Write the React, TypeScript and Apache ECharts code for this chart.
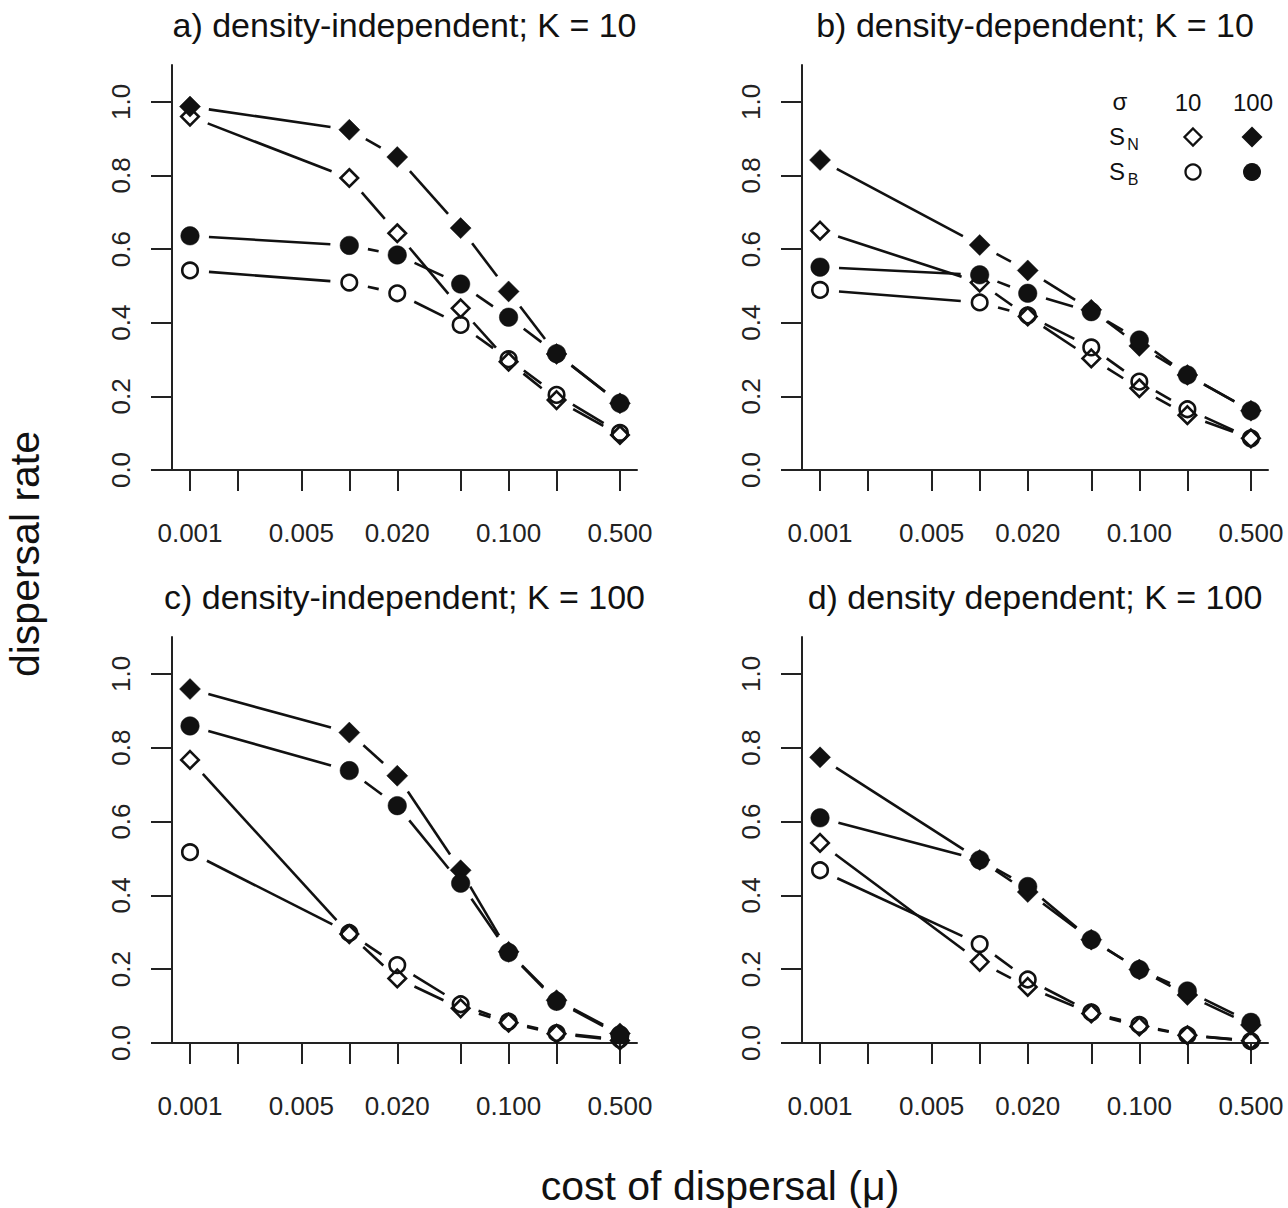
import React, { useEffect, useRef } from "react";
import * as echarts from "echarts";

// ---------- data ----------
const costs = [0.001, 0.01, 0.02, 0.05, 0.1, 0.2, 0.5];
const tickCosts = [0.001, 0.002, 0.005, 0.01, 0.02, 0.05, 0.1, 0.2, 0.5];
const labelCosts = [0.001, 0.005, 0.02, 0.1, 0.5];
const yTicks = [0, 0.2, 0.4, 0.6, 0.8, 1.0];

const panelTitles = [
  "a) density-independent; K = 10",
  "b) density-dependent; K = 10",
  "c) density-independent; K = 100",
  "d) density dependent; K = 100",
];

// a) density-independent, K = 10
const a_SN10 = [0.96, 0.793, 0.643, 0.439, 0.294, 0.19, 0.095];
const a_SN100 = [0.987, 0.924, 0.85, 0.657, 0.485, 0.315, 0.181];
const a_SB10 = [0.542, 0.509, 0.48, 0.394, 0.301, 0.204, 0.101];
const a_SB100 = [0.636, 0.61, 0.584, 0.505, 0.415, 0.316, 0.181];

// b) density-dependent, K = 10
const b_SN10 = [0.65, 0.509, 0.417, 0.303, 0.222, 0.149, 0.086];
const b_SN100 = [0.842, 0.611, 0.542, 0.435, 0.337, 0.258, 0.161];
const b_SB10 = [0.489, 0.455, 0.42, 0.333, 0.24, 0.165, 0.086];
const b_SB100 = [0.551, 0.53, 0.48, 0.43, 0.353, 0.258, 0.161];

// c) density-independent, K = 100
const c_SN10 = [0.767, 0.295, 0.175, 0.094, 0.055, 0.025, 0.007];
const c_SN100 = [0.959, 0.841, 0.724, 0.468, 0.247, 0.116, 0.026];
const c_SB10 = [0.517, 0.298, 0.211, 0.105, 0.058, 0.027, 0.01];
const c_SB100 = [0.859, 0.738, 0.643, 0.433, 0.245, 0.113, 0.022];

// d) density dependent, K = 100
const d_SN10 = [0.542, 0.22, 0.152, 0.08, 0.045, 0.021, 0.006];
const d_SN100 = [0.774, 0.496, 0.409, 0.28, 0.199, 0.13, 0.049];
const d_SB10 = [0.468, 0.268, 0.172, 0.083, 0.049, 0.021, 0.005];
const d_SB100 = [0.61, 0.496, 0.424, 0.28, 0.199, 0.141, 0.056];

const panelData = [
  [a_SN10, a_SN100, a_SB10, a_SB100],
  [b_SN10, b_SN100, b_SB10, b_SB100],
  [c_SN10, c_SN100, c_SB10, c_SB100],
  [d_SN10, d_SN100, d_SB10, d_SB100],
];

// ---------- styles / layout ----------
const FONT = "'Liberation Sans', Arial, Helvetica, sans-serif";
const INK = "#111";
const AXIS = "#222";
const GAP = 19;

const grids = [
  { left: 172, top: 65, width: 465, height: 405 },
  { left: 802, top: 65, width: 466, height: 405 },
  { left: 172, top: 637, width: 465, height: 406 },
  { left: 802, top: 637, width: 466, height: 406 },
];
const XMIN = -3.113;
const XMAX = -0.194;

const markerStyles = [
  { symbol: "diamond", symbolSize: 17.5, itemStyle: { opacity: 1, color: "rgba(0,0,0,0)", borderColor: INK, borderWidth: 2.6 } },
  { symbol: "diamond", symbolSize: 21, itemStyle: { opacity: 1, color: INK, borderColor: INK, borderWidth: 0.5 } },
  { symbol: "circle", symbolSize: 15.5, itemStyle: { opacity: 1, color: "rgba(0,0,0,0)", borderColor: INK, borderWidth: 2.6 } },
  { symbol: "circle", symbolSize: 18.5, itemStyle: { opacity: 1, color: INK, borderColor: INK, borderWidth: 0.5 } },
];

function buildOption() {
  const series: any[] = [];
  const xAxes: any[] = [];
  const yAxes: any[] = [];

  grids.forEach((g, i) => {
    xAxes.push({
      type: "value",
      gridIndex: i,
      min: XMIN,
      max: XMAX,
      axisLine: { show: true, onZero: false, lineStyle: { color: AXIS, width: 2 } },
      axisTick: {
        show: true,
        length: 21,
        lineStyle: { color: AXIS, width: 2 },
        customValues: tickCosts.map((c) => Math.log10(c)),
      },
      axisLabel: {
        customValues: labelCosts.map((c) => Math.log10(c)),
        formatter: (v: number) => Math.pow(10, v).toFixed(3),
        fontSize: 26,
        margin: 50,
        color: AXIS,
        fontFamily: FONT,
      },
      splitLine: { show: false },
    });
    yAxes.push({
      type: "value",
      gridIndex: i,
      min: 0,
      max: 1.1,
      axisLine: { show: true, onZero: false, lineStyle: { color: AXIS, width: 2 } },
      axisTick: {
        show: true,
        length: 21,
        lineStyle: { color: AXIS, width: 2 },
        customValues: yTicks,
      },
      axisLabel: {
        customValues: yTicks,
        rotate: 90,
        formatter: (v: number) => v.toFixed(1),
        fontSize: 26,
        margin: 38,
        color: AXIS,
        fontFamily: FONT,
      },
      splitLine: { show: false },
    });

    panelData[i].forEach((vals) => {
      const segs: number[][] = [];
      for (let k = 0; k < costs.length - 1; k++) {
        segs.push([Math.log10(costs[k]), vals[k], Math.log10(costs[k + 1]), vals[k + 1]]);
      }
      series.push({
        type: "custom",
        coordinateSystem: "cartesian2d",
        xAxisIndex: i,
        yAxisIndex: i,
        clip: false,
        encode: { x: [0, 2], y: [1, 3] },
        data: segs,
        silent: true,
        renderItem: (_p: any, api: any) => {
          const p1 = api.coord([api.value(0), api.value(1)]);
          const p2 = api.coord([api.value(2), api.value(3)]);
          const dx = p2[0] - p1[0];
          const dy = p2[1] - p1[1];
          const len = Math.hypot(dx, dy);
          if (len <= 2 * GAP + 1) return { type: "group", children: [] };
          const ux = dx / len;
          const uy = dy / len;
          return {
            type: "line",
            shape: {
              x1: p1[0] + ux * GAP,
              y1: p1[1] + uy * GAP,
              x2: p2[0] - ux * GAP,
              y2: p2[1] - uy * GAP,
            },
            style: { stroke: INK, lineWidth: 2.6 },
          };
        },
      });
    });

    panelData[i].forEach((vals, s) => {
      series.push({
        type: "scatter",
        xAxisIndex: i,
        yAxisIndex: i,
        clip: false,
        silent: true,
        data: costs.map((c, k) => [Math.log10(c), vals[k]]),
        ...markerStyles[s],
      });
    });
  });

  const txt = (text: string, x: number, y: number, fontSize: number, extra: any = {}) => ({
    type: "text",
    x,
    y,
    silent: true,
    ...extra,
    style: {
      text,
      fontSize,
      fontFamily: FONT,
      fill: INK,
      align: "center",
      verticalAlign: "middle",
      textAlign: "center",
      textVerticalAlign: "middle",
    },
  });

  const graphics: any[] = [];
  panelTitles.forEach((t, i) => {
    const g = grids[i];
    graphics.push(txt(t, g.left + g.width / 2, g.top - 40, 34));
  });
  graphics.push(txt("dispersal rate", 25, 554, 41, { rotation: Math.PI / 2 }));
  graphics.push(txt("cost of dispersal (\u03bc)", 720, 1186, 41));

  // legend (panel b)
  graphics.push(txt("\u03c3", 1120, 101, 24));
  graphics.push(txt("10", 1188, 102, 24));
  graphics.push(txt("100", 1253, 102, 24));
  graphics.push(txt("S", 1117, 136, 24));
  graphics.push(txt("N", 1133, 144, 16));
  graphics.push(txt("S", 1117, 171, 24));
  graphics.push(txt("B", 1133, 179, 16));
  graphics.push({
    type: "polygon",
    x: 1193,
    y: 137,
    silent: true,
    shape: { points: [[0, -8.5], [8.5, 0], [0, 8.5], [-8.5, 0]] },
    style: { fill: "none", stroke: INK, lineWidth: 2.3 },
  });
  graphics.push({
    type: "polygon",
    x: 1252,
    y: 137,
    silent: true,
    shape: { points: [[0, -10.5], [10.5, 0], [0, 10.5], [-10.5, 0]] },
    style: { fill: INK },
  });
  graphics.push({
    type: "circle",
    silent: true,
    shape: { cx: 1193, cy: 172, r: 7.5 },
    style: { fill: "none", stroke: INK, lineWidth: 2.3 },
  });
  graphics.push({
    type: "circle",
    silent: true,
    shape: { cx: 1252, cy: 172, r: 9 },
    style: { fill: INK },
  });

  return {
    animation: false,
    backgroundColor: "#ffffff",
    grid: grids.map((g) => ({ ...g, containLabel: false })),
    xAxis: xAxes,
    yAxis: yAxes,
    series,
    graphic: { elements: graphics },
  };
}

export default function App() {
  const ref = useRef<HTMLDivElement>(null);
  useEffect(() => {
    document.body.style.margin = "0";
    if (!ref.current) return;
    const chart = echarts.init(ref.current, null, { renderer: "svg" });
    chart.setOption(buildOption() as any);
    return () => chart.dispose();
  }, []);
  return <div ref={ref} style={{ width: 1288, height: 1208 }} />;
}
